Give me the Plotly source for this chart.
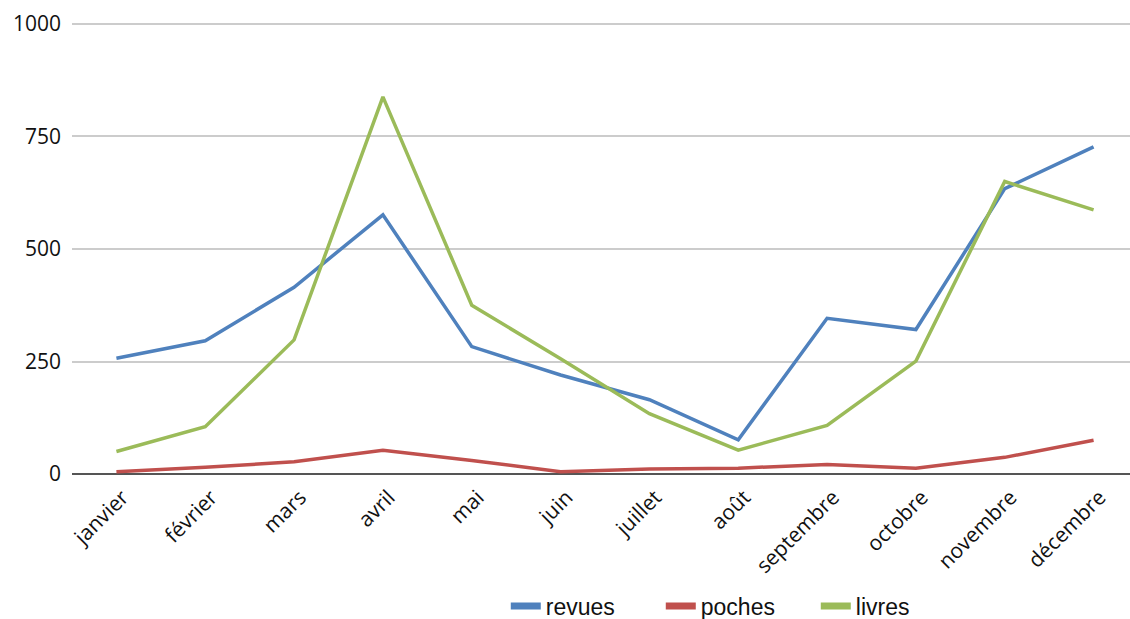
import plotly.graph_objects as go

months = ["janvier", "février", "mars", "avril", "mai", "juin", "juillet",
          "août", "septembre", "octobre", "novembre", "décembre"]
revues = [257, 296, 415, 576, 283, 220, 165, 76, 346, 321, 634, 727]
poches = [5, 15, 27, 53, 30, 5, 11, 13, 21, 13, 37, 75]
livres = [50, 105, 298, 838, 375, 256, 134, 53, 108, 251, 650, 587]
y_ticks = [0, 250, 500, 750, 1000]

series = [("revues", revues, "#4F81BD"),
          ("poches", poches, "#C0504D"),
          ("livres", livres, "#9BBB59")]

fig = go.Figure()
for name, vals, color in series:
    fig.add_trace(go.Scatter(x=months, y=vals, name=name, mode="lines",
                             legendgroup=name, showlegend=False,
                             line=dict(color=color, width=3.5)))
for name, vals, color in series:
    # legend-only entry with a thicker swatch
    fig.add_trace(go.Scatter(x=[months[0]], y=[None], name=name, mode="lines",
                             legendgroup=name, showlegend=True,
                             line=dict(color=color, width=7)))

H = 619
fig.update_layout(
    width=1130, height=H,
    margin=dict(l=72, r=0, t=22, b=H - 474),
    paper_bgcolor="white", plot_bgcolor="white",
    font=dict(family="Open Sans", size=21, color="#111111"),
    showlegend=True,
    legend=dict(orientation="h", x=0.41, xanchor="left",
                yref="container", y=(H - 606) / H, yanchor="middle",
                itemwidth=30, entrywidth=110, entrywidthmode="pixels",
                font=dict(family="Liberation Sans", size=23, color="#111111")),
    xaxis=dict(type="category", range=[-0.5, 11.41], tickangle=-45,
               showgrid=False, showline=False, ticks="", automargin=False,
               tickfont=dict(size=21), ticklabelstandoff=6, ticklabelshift=6),
    yaxis=dict(range=[0, 1004.4], tickvals=y_ticks, showgrid=True,
               gridcolor="#cccccc", gridwidth=1.5, zeroline=True,
               zerolinecolor="#555555", zerolinewidth=2, ticks="", automargin=False,
               tickfont=dict(size=21), ticklabelstandoff=10),
)
fig.write_html("out.html", config={"displayModeBar": False},
               post_script="document.documentElement.style.margin='0';"
                           "document.body.style.margin='0';"
                           "document.body.style.overflow='hidden';")
